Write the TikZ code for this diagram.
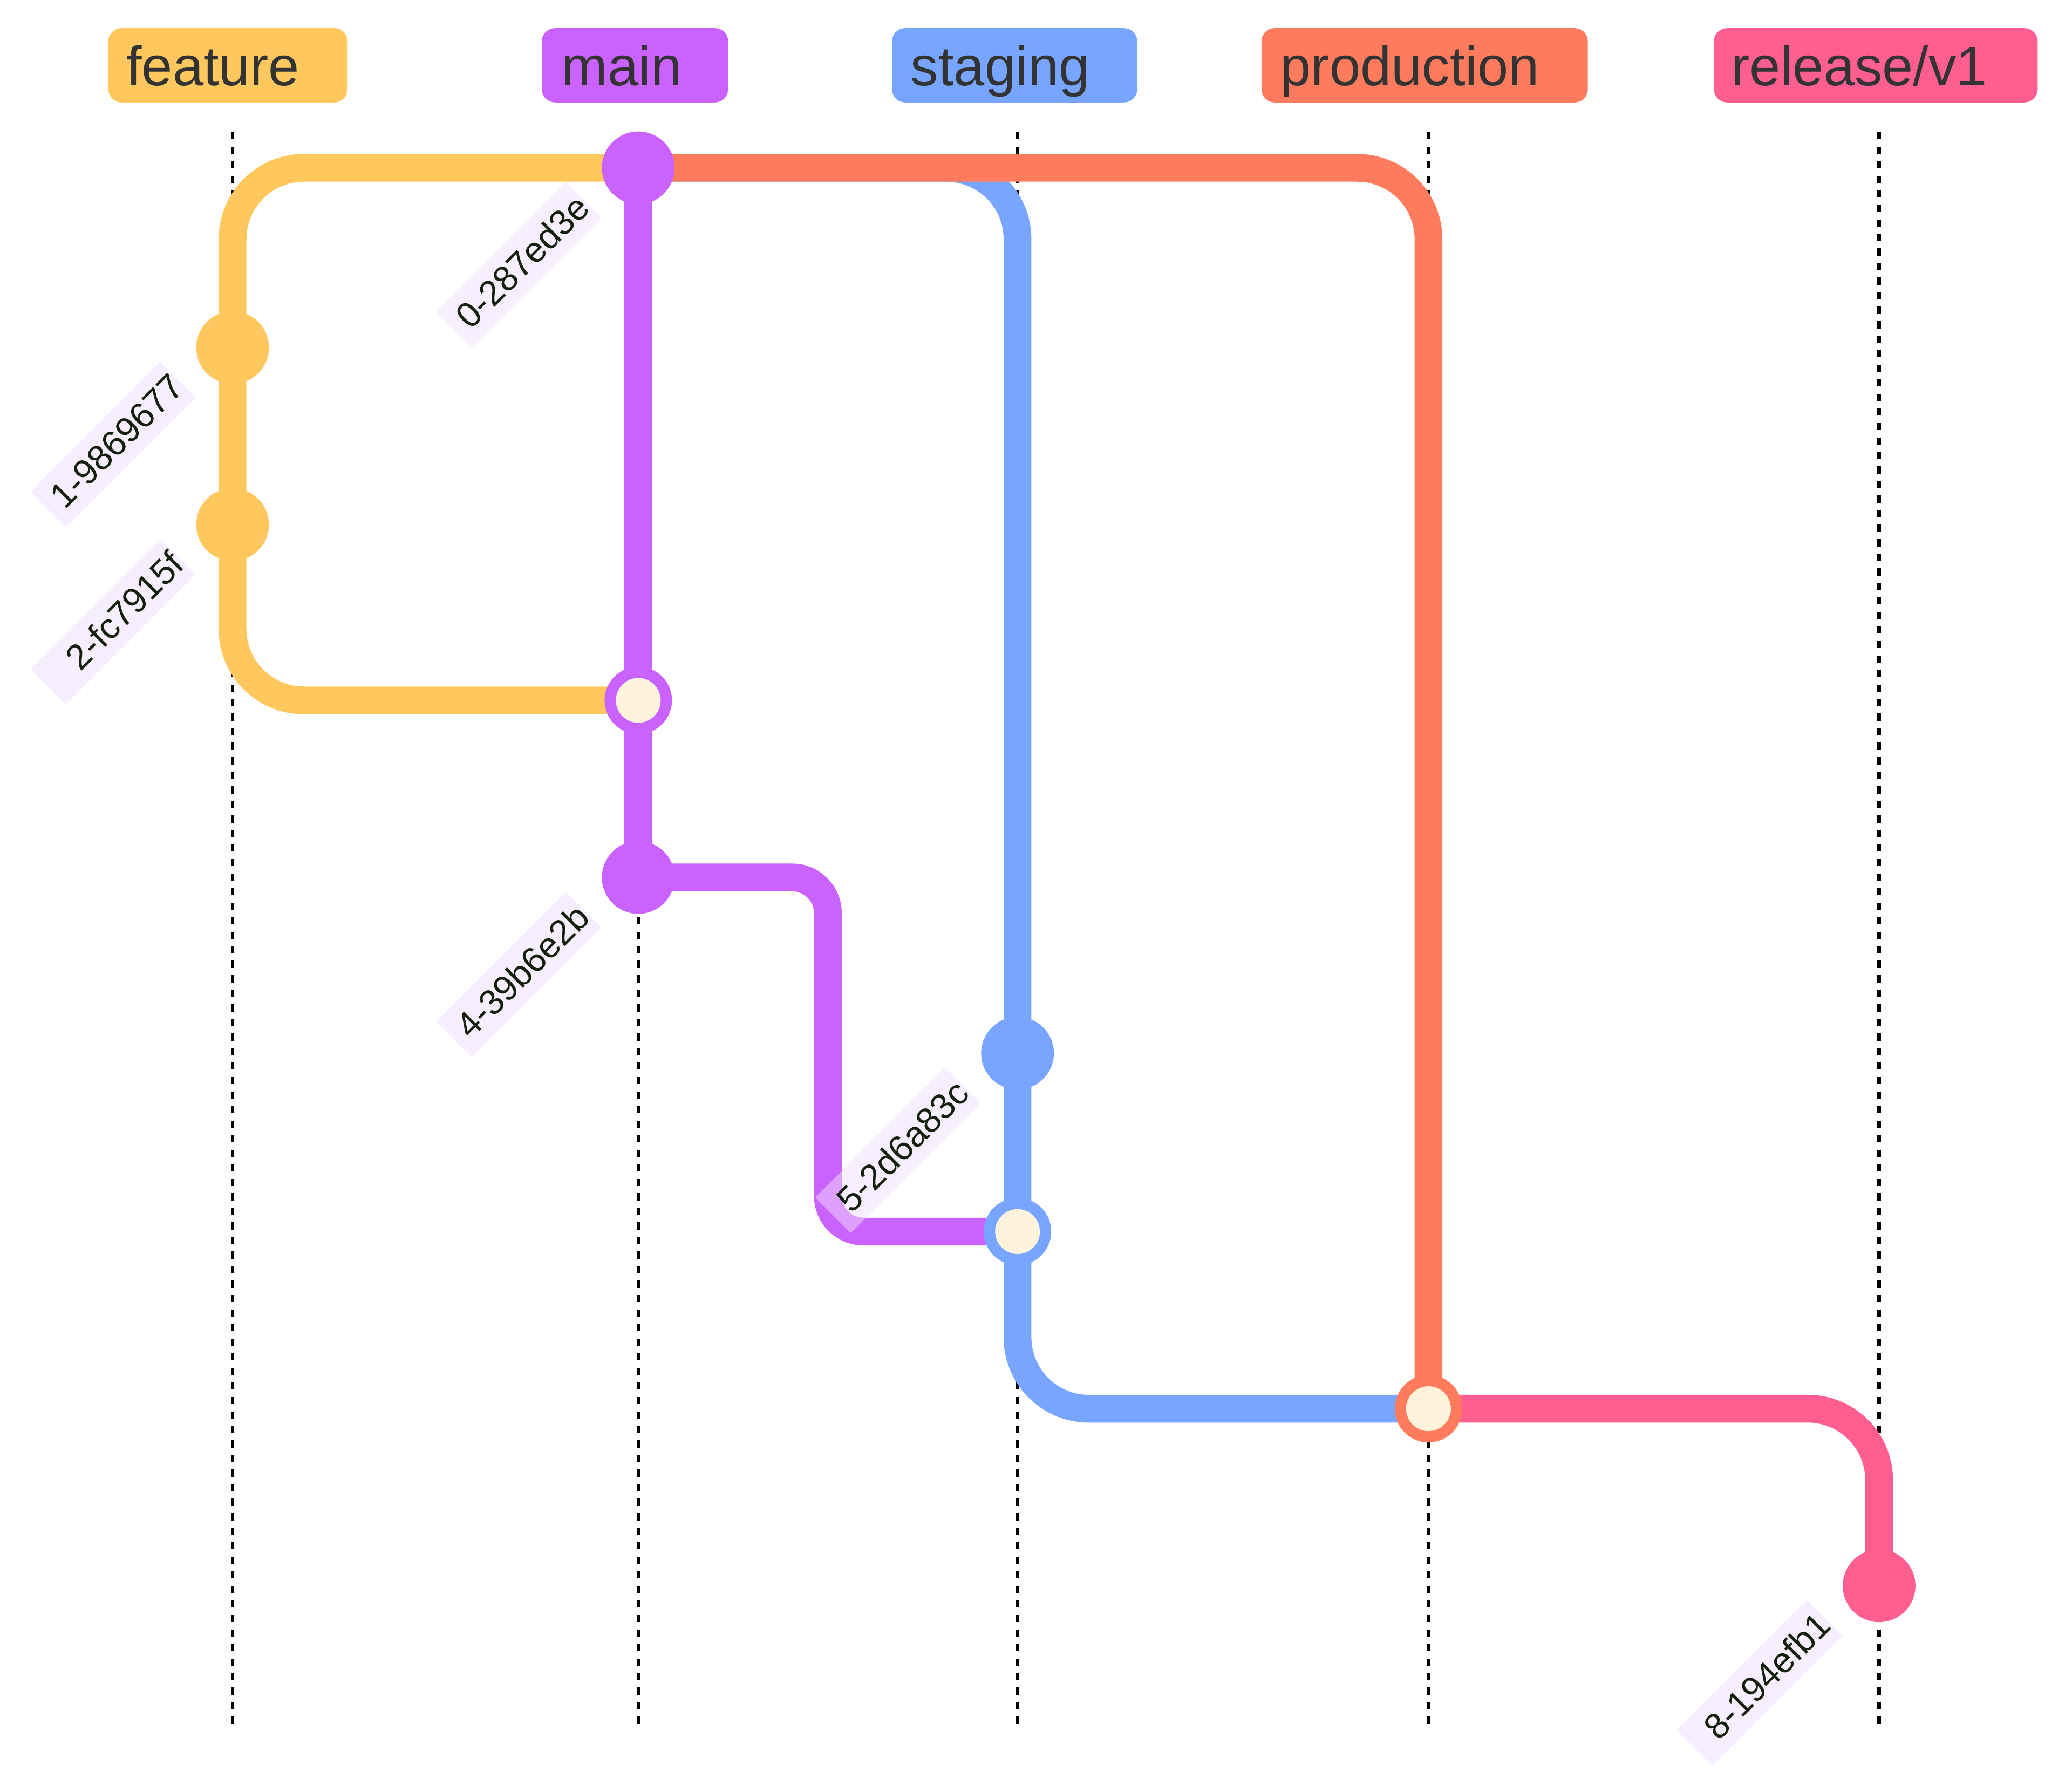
\documentclass[tikz,border=0pt]{standalone}
\usepackage{fontspec}
\setmainfont{Liberation Sans}
\usetikzlibrary{calc}
\definecolor{cfeat}{HTML}{FFC85E}
\definecolor{cmain}{HTML}{C962FF}
\definecolor{cstag}{HTML}{78A5FF}
\definecolor{cprod}{HTML}{FF7B5E}
\definecolor{crel}{HTML}{FF5E90}
\definecolor{cream}{HTML}{FFF3DC}
\definecolor{textgray}{HTML}{333333}
\definecolor{lblbg}{HTML}{F1DEFF}
\definecolor{lbltext}{HTML}{13200C}
\begin{document}
\begin{tikzpicture}[x=1pt,y=-1pt,
  lane/.style={line width=2.5pt, dash pattern=on 5.5pt off 5.5pt, black},
  branchline/.style={line width=21pt, line cap=butt},
  commitdot/.style={circle, inner sep=0pt, minimum size=55pt},
  mergedot/.style={circle, draw, inner sep=0pt, minimum size=42.5pt, line width=8.5pt, fill=cream},
  branchbox/.style={rounded corners=10pt, inner sep=0pt, minimum height=56.2pt},
  branchtext/.style={anchor=base west, inner sep=0pt, font=\fontsize{42}{48}\selectfont, text=textgray},
  clabel/.style={rotate=45, fill=lblbg, fill opacity=0.5, text opacity=1, text=lbltext, inner xsep=1pt, inner ysep=0pt, text width=137pt, align=right, minimum height=38pt, font=\fontsize{27}{30}\selectfont}
]
\useasboundingbox[fill=white] (0,0) rectangle (1568,1356);

% lanes
\foreach \n/\x in {feat/176, main/483, stag/770, prod/1081, rel/1422}{
  \coordinate (top\n) at (\x,100);
  \coordinate (bot\n) at (\x,1308);
}
\draw[lane] (topfeat) -- (botfeat);
\draw[lane] (topmain) -- (botmain);
\draw[lane] (topstag) -- (botstag);
\draw[lane] (topprod) -- (botprod);
\draw[lane] (toprel) -- (botrel);

% commit positions
\coordinate (p0) at (483,127);
\coordinate (p1) at (176,263);
\coordinate (p2) at (176,397);
\coordinate (p3) at (483,530);
\coordinate (p4) at (483,664);
\coordinate (p5) at (770,797);
\coordinate (p6) at (770,932);
\coordinate (p7) at (1081,1066);
\coordinate (p8) at (1422,1200);
\coordinate (pm) at ($(p4)!0.5!(p6)$);

% branch lines
\draw[branchline, cfeat, rounded corners=54pt] (p0) -| (p1) -- (p2) |- (p3);
\draw[branchline, cmain] (p0) -- (p3) -- (p4);
\draw[branchline, cmain, rounded corners=27pt] (p4) -| (pm) |- (p6);
\draw[branchline, cstag, rounded corners=54pt] (p0) -| (p5) -- (p6) |- (p7);
\draw[branchline, cprod, rounded corners=54pt] (p0) -| (p7);
\draw[branchline, crel, rounded corners=54pt] (p7) -| (p8);

% commits
\node[commitdot, fill=cmain] (c0) at (p0) {};
\node[commitdot, fill=cfeat] (c1) at (p1) {};
\node[commitdot, fill=cfeat] (c2) at (p2) {};
\node[mergedot, draw=cmain] (c3) at (p3) {};
\node[commitdot, fill=cmain] (c4) at (p4) {};
\node[commitdot, fill=cstag] (c5) at (p5) {};
\node[mergedot, draw=cstag] (c6) at (p6) {};
\node[mergedot, draw=cprod] (c7) at (p7) {};
\node[commitdot, fill=crel] (c8) at (p8) {};

% commit labels
\node[clabel] (l0) at ($(p0)+(-90.5,73.5)$) {0-287ed3e};
\node[clabel] (l1) at ($(p1)+(-90.5,73.5)$) {1-9869677};
\node[clabel] (l2) at ($(p2)+(-90.5,73.5)$) {2-fc7915f};
\node[clabel] (l4) at ($(p4)+(-90.5,73.5)$) {4-39b6e2b};
\node[clabel] (l5) at ($(p5)+(-90.5,73.5)$) {5-2d6a83c};
\node[clabel] (l8) at ($(p8)+(-90.5,73.5)$) {8-194efb1};

% branch labels
\node[branchbox, fill=cfeat, minimum width=181pt] (bfeat) at (172.5,49.4) {};
\node[branchbox, fill=cmain, minimum width=141pt] (bmain) at (480.5,49.4) {};
\node[branchbox, fill=cstag, minimum width=185.6pt] (bstag) at (767.8,49.4) {};
\node[branchbox, fill=cprod, minimum width=247pt] (bprod) at (1078.1,49.4) {};
\node[branchbox, fill=crel, minimum width=245pt] (brel) at (1419.5,49.4) {};
\node[branchtext] (tfeat) at (95.5,64.7) {feature};
\node[branchtext] (tmain) at (424.7,64.7) {main};
\node[branchtext] (tstag) at (689,64.7) {staging};
\node[branchtext] (tprod) at (968.6,64.7) {production};
\node[branchtext] (trel) at (1310,64.7) {release/v1};
\end{tikzpicture}
\end{document}
